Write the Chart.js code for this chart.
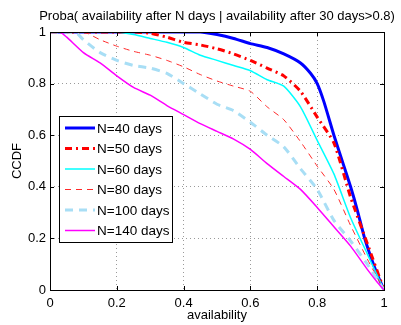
<!DOCTYPE html>
<html lang="en">
<head>
    <meta charset="UTF-8">
    <title>CCDF availability</title>
    <script src="https://cdn.jsdelivr.net/npm/chart.js"></script>
    <style>
        html, body { margin: 0; padding: 0; background: #fff; }
        #wrap { width: 401px; height: 325px; }
    </style>
</head>
<body>
    <div id="wrap"><canvas id="ccdf"></canvas></div>

    <script>
        // values
        const titleText = 'Proba( availability after N days | availability after 30 days>0.8)';
        const seriesNames = ['N=40 days', 'N=50 days', 'N=60 days', 'N=80 days', 'N=100 days', 'N=140 days'];
        const tickValues = [0, 0.2, 0.4, 0.6, 0.8, 1];

        const n40X = [0, 0.45, 0.5, 0.55, 0.6, 0.65, 0.7, 0.75, 0.78, 0.8, 0.82, 0.85, 0.88, 0.9, 0.92, 0.94, 0.96, 0.98, 1];
        const n40Y = [1, 1, 0.99, 0.975, 0.955, 0.94, 0.915, 0.88, 0.84, 0.80, 0.73, 0.60, 0.48, 0.40, 0.31, 0.21, 0.13, 0.06, 0];

        const n50X = [0, 0.25, 0.3, 0.35, 0.4, 0.45, 0.5, 0.55, 0.6, 0.65, 0.7, 0.75, 0.8, 0.85, 0.9, 0.95, 1];
        const n50Y = [1, 1, 0.995, 0.98, 0.96, 0.95, 0.935, 0.915, 0.89, 0.86, 0.83, 0.77, 0.67, 0.57, 0.36, 0.18, 0];

        const n60X = [0, 0.2, 0.25, 0.3, 0.35, 0.4, 0.45, 0.5, 0.55, 0.6, 0.65, 0.7, 0.75, 0.8, 0.85, 0.9, 0.95, 1];
        const n60Y = [1, 1, 0.99, 0.975, 0.96, 0.94, 0.91, 0.89, 0.87, 0.85, 0.815, 0.79, 0.71, 0.58, 0.45, 0.28, 0.14, 0];

        const n80X = [0, 0.1, 0.15, 0.2, 0.25, 0.3, 0.35, 0.4, 0.45, 0.5, 0.55, 0.6, 0.65, 0.7, 0.75, 0.8, 0.85, 0.9, 0.95, 1];
        const n80Y = [1, 1, 0.97, 0.945, 0.925, 0.91, 0.89, 0.865, 0.835, 0.81, 0.79, 0.77, 0.71, 0.66, 0.575, 0.48, 0.39, 0.25, 0.12, 0];

        const n100X = [0, 0.05, 0.08, 0.1, 0.15, 0.2, 0.25, 0.3, 0.35, 0.4, 0.45, 0.5, 0.55, 0.6, 0.65, 0.7, 0.75, 0.8, 0.85, 0.9, 0.95, 1];
        const n100Y = [1, 1, 0.995, 0.97, 0.92, 0.89, 0.87, 0.86, 0.84, 0.80, 0.76, 0.72, 0.695, 0.65, 0.60, 0.555, 0.47, 0.39, 0.27, 0.19, 0.10, 0];

        const n140X = [0, 0.03, 0.05, 0.1, 0.15, 0.2, 0.25, 0.3, 0.35, 0.4, 0.45, 0.5, 0.55, 0.6, 0.65, 0.7, 0.75, 0.8, 0.85, 0.9, 0.95, 0.98, 1];
        const n140Y = [1, 1, 0.98, 0.92, 0.88, 0.83, 0.785, 0.755, 0.715, 0.68, 0.645, 0.615, 0.585, 0.545, 0.49, 0.44, 0.39, 0.32, 0.245, 0.17, 0.08, 0.03, 0];

        const FONT = "'Liberation Sans', Arial, Helvetica, sans-serif";

        function pts(xs, ys) {
            return xs.map((x, i) => ({ x: x, y: ys[i] }));
        }

        const styles = [
            { color: '#0000ff', width: 3, dash: [] },
            { color: '#ff0000', width: 3, dash: [7, 4, 2, 4] },
            { color: '#00ffff', width: 1.5, dash: [] },
            { color: '#ff2a2a', width: 1, dash: [6, 5] },
            { color: '#a8def5', width: 3, dash: [8, 6] },
            { color: '#ff00ff', width: 1.5, dash: [] }
        ];
        const seriesData = [pts(n40X, n40Y), pts(n50X, n50Y), pts(n60X, n60Y),
                            pts(n80X, n80Y), pts(n100X, n100Y), pts(n140X, n140Y)];

        // box, inward ticks, title and in-plot legend (matlab look)
        const matlabDecor = {
            id: 'matlabDecor',
            afterDatasetsDraw(chart) {
                const ctx = chart.ctx;
                const a = chart.chartArea;
                const xs = chart.scales.x, ys = chart.scales.y;
                ctx.save();
                ctx.strokeStyle = '#000';
                ctx.lineWidth = 1;
                ctx.setLineDash([]);
                ctx.beginPath();
                tickValues.forEach(v => {
                    const px = Math.round(xs.getPixelForValue(v)) + 0.5;
                    ctx.moveTo(px, a.bottom); ctx.lineTo(px, a.bottom - 4);
                    ctx.moveTo(px, a.top); ctx.lineTo(px, a.top + 4);
                    const py = Math.round(ys.getPixelForValue(v)) + 0.5;
                    ctx.moveTo(a.left, py); ctx.lineTo(a.left + 4, py);
                    ctx.moveTo(a.right, py); ctx.lineTo(a.right - 4, py);
                });
                ctx.stroke();
                ctx.strokeRect(Math.round(a.left) + 0.5, Math.round(a.top) + 0.5,
                               Math.round(a.right - a.left), Math.round(a.bottom - a.top));

                // title
                ctx.fillStyle = '#000';
                ctx.font = '13px ' + FONT;
                ctx.textAlign = 'center';
                ctx.textBaseline = 'middle';
                ctx.fillText(titleText, 217, 16);

                // legend
                const lx = 59, ly = 116, lw = 113, lh = 126;
                ctx.fillStyle = '#fff';
                ctx.fillRect(lx, ly, lw, lh);
                ctx.strokeStyle = '#000';
                ctx.strokeRect(lx + 0.5, ly + 0.5, lw, lh);
                ctx.font = '13.5px ' + FONT;
                ctx.textAlign = 'left';
                seriesNames.forEach((name, i) => {
                    const y = ly + 12 + i * 20.5;
                    const s = styles[i];
                    ctx.strokeStyle = s.color;
                    ctx.lineWidth = s.width;
                    ctx.setLineDash(s.dash);
                    ctx.beginPath();
                    ctx.moveTo(65, y); ctx.lineTo(95, y);
                    ctx.stroke();
                    ctx.setLineDash([]);
                    ctx.fillStyle = '#000';
                    ctx.fillText(name, 97, y + 1);
                });
                ctx.restore();
            }
        };

        new Chart(document.getElementById('ccdf'), {
            type: 'scatter',
            data: {
                datasets: seriesNames.map((name, i) => ({
                    label: name,
                    data: seriesData[i],
                    showLine: true,
                    borderColor: styles[i].color,
                    borderWidth: styles[i].width,
                    borderDash: styles[i].dash,
                    pointRadius: 0,
                    fill: false,
                    tension: 0.2
                })).reverse()
            },
            plugins: [matlabDecor],
            options: {
                responsive: true,
                maintainAspectRatio: false,
                animation: false,
                layout: { padding: { left: 10, right: 17, top: 32, bottom: 2 } },
                plugins: {
                    legend: { display: false },
                    title: { display: false },
                    tooltip: { enabled: false }
                },
                scales: {
                    x: {
                        type: 'linear',
                        min: 0, max: 1,
                        afterBuildTicks: s => { s.ticks = tickValues.map(v => ({ value: v })); },
                        afterFit: s => { s.height = 33; },
                        grid: { color: '#9a9a9a', drawTicks: false, lineWidth: 1 },
                        border: { display: false, dash: [1, 3] },
                        ticks: {
                            color: '#000', padding: 6,
                            font: { family: FONT, size: 13 },
                            callback: v => String(+v.toFixed(1))
                        },
                        title: {
                            display: true, text: 'availability', color: '#000',
                            font: { family: FONT, size: 13 }, padding: { top: 0, bottom: 0 }
                        }
                    },
                    y: {
                        type: 'linear',
                        min: 0, max: 1,
                        afterBuildTicks: s => { s.ticks = tickValues.map(v => ({ value: v })); },
                        afterFit: s => { s.width = 40; },
                        grid: { color: '#9a9a9a', drawTicks: false, lineWidth: 1 },
                        border: { display: false, dash: [1, 3] },
                        ticks: {
                            color: '#000', padding: 4,
                            font: { family: FONT, size: 13 },
                            callback: v => String(+v.toFixed(1))
                        },
                        title: {
                            display: true, text: 'CCDF', color: '#000',
                            font: { family: FONT, size: 13 }, padding: { top: 0, bottom: 0 }
                        }
                    }
                }
            }
        });
    </script>
</body>
</html>
